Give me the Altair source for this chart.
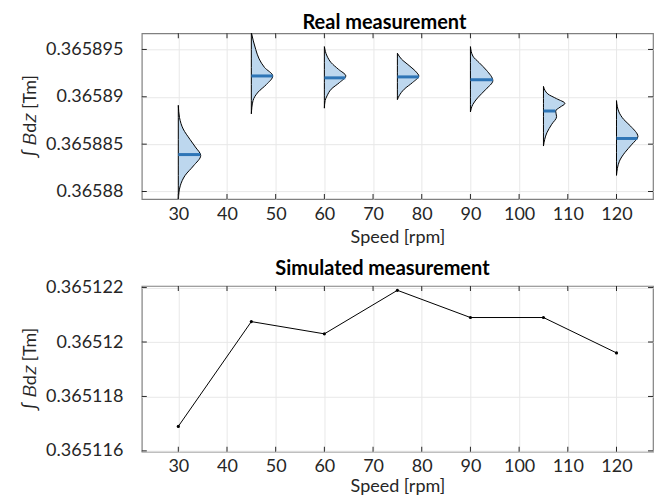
import altair as alt
import pandas as pd

speeds = [30, 45, 60, 75, 90, 105, 120]
x_ticks = [30, 40, 50, 60, 70, 80, 90, 100, 110, 120]

# half-violin outlines: value [Tm] and half-width [rpm units]
v30_vals = [0.3658891, 0.3658878, 0.3658866, 0.3658855, 0.3658847, 0.3658838, 0.3658827, 0.3658817, 0.3658806, 0.3658792]
v30_wids = [0.0, 0.25, 1.0, 2.4, 3.5, 4.6, 3.1, 1.4, 0.4, 0.0]
v45_vals = [0.3658968, 0.3658950, 0.3658940, 0.3658931, 0.3658922, 0.3658913, 0.3658905, 0.3658896, 0.3658882]
v45_wids = [0.0, 0.9, 1.6, 2.7, 4.4, 3.1, 1.4, 0.35, 0.0]
v60_vals = [0.3658953, 0.3658943, 0.3658936, 0.3658929, 0.3658922, 0.3658915, 0.3658908, 0.3658901, 0.3658896, 0.3658888]
v60_wids = [0.0, 0.55, 1.4, 2.9, 4.4, 3.1, 1.4, 0.55, 0.15, 0.0]
v75_vals = [0.3658946, 0.3658940, 0.3658933, 0.3658926, 0.3658922, 0.3658915, 0.3658908, 0.3658901, 0.3658897]
v75_wids = [0.0, 0.8, 2.4, 3.9, 4.4, 3.1, 1.4, 0.35, 0.0]
v90_vals = [0.3658953, 0.3658943, 0.3658936, 0.3658928, 0.3658917, 0.3658908, 0.3658899, 0.3658892, 0.3658884]
v90_wids = [0.0, 0.5, 1.8, 3.3, 4.6, 3.2, 1.5, 0.5, 0.0]
v105_vals = [0.3658911, 0.3658903, 0.3658898, 0.3658893, 0.3658889, 0.3658885, 0.3658879, 0.3658871, 0.3658862, 0.3658848]
v105_wids = [0.0, 0.9, 2.7, 4.4, 3.4, 2.5, 2.7, 1.7, 0.7, 0.0]
v120_vals = [0.3658896, 0.3658884, 0.3658876, 0.3658869, 0.3658858, 0.3658850, 0.3658841, 0.3658832, 0.3658817]
v120_wids = [0.0, 0.5, 1.5, 2.9, 4.4, 3.2, 1.7, 0.6, 0.0]

median_vals = [0.3658839, 0.3658922, 0.3658920, 0.3658921, 0.3658918, 0.3658885, 0.3658856]
median_wids = [4.5, 4.4, 4.3, 4.4, 4.6, 2.45, 4.3]

sim_vals = [0.3651169, 0.36512075, 0.3651203, 0.3651219, 0.3651209, 0.3651209, 0.3651196]

top_y_ticks = [0.36588, 0.365885, 0.36589, 0.365895]
bot_y_ticks = [0.365116, 0.365118, 0.36512, 0.365122]

profiles = {30: (v30_vals, v30_wids), 45: (v45_vals, v45_wids), 60: (v60_vals, v60_wids),
            75: (v75_vals, v75_wids), 90: (v90_vals, v90_wids), 105: (v105_vals, v105_wids),
            120: (v120_vals, v120_wids)}
rows = []
for s, (vals, wids) in profiles.items():
    for v, w in zip(vals, wids):
        rows.append({"speed": s, "value": v, "xend": s + w})
df_v = pd.DataFrame(rows)
df_med = pd.DataFrame({"speed": speeds, "value": median_vals,
                       "mend": [s + w for s, w in zip(speeds, median_wids)]})
df_sim = pd.DataFrame({"speed": speeds, "value": sim_vals})
df_xt = pd.DataFrame({"speed": x_ticks})

FONT = "Lato"
TXT = "#262626"
W, H = 512, 166
TL = 5  # inward tick length

xs = alt.Scale(domain=[22.5, 127.5], nice=False, zero=False)
ys_top = alt.Scale(domain=[0.3658792, 0.3658967], nice=False, zero=False)
ys_bot = alt.Scale(domain=[0.36511597, 0.36512206], nice=False, zero=False)

Y_TITLE = "∫ 𝐵d𝑧 [Tm]"


def main_x(tpad):
    return alt.Axis(values=x_ticks, title="Speed [rpm]", grid=True, ticks=False, domain=False,
                    labelPadding=6, titlePadding=tpad, orient="bottom")


def main_y(vals):
    return alt.Axis(values=vals, title=Y_TITLE, grid=True, ticks=False, domain=False,
                    format=".6~g", labelPadding=19, titlePadding=6, orient="left")


def tick_layers(ys, yvals):
    df_yt = pd.DataFrame({"value": yvals})
    bx = alt.Chart(df_xt).mark_tick(orient="vertical", color=TXT, thickness=1, size=TL, opacity=1)
    by = alt.Chart(df_yt).mark_tick(orient="horizontal", color=TXT, thickness=1, size=TL, opacity=1)
    xb = bx.encode(x=alt.X("speed:Q", scale=xs, axis=None), y=alt.value(H - TL / 2))
    xt = bx.encode(x=alt.X("speed:Q", scale=xs, axis=None), y=alt.value(TL / 2))
    yl = by.encode(y=alt.Y("value:Q", scale=ys, axis=None), x=alt.value(TL / 2))
    yr = by.encode(y=alt.Y("value:Q", scale=ys, axis=None), x=alt.value(W - TL / 2))
    return [xb, xt, yl, yr]


# --- top panel
area = alt.Chart(df_v).mark_area(orient="horizontal", interpolate="monotone", fill="#bdd7ee",
                                  stroke="black", strokeWidth=1, clip=True).encode(
    x=alt.X("speed:Q", scale=xs, axis=main_x(5)),
    x2="xend:Q",
    y=alt.Y("value:Q", scale=ys_top, axis=main_y(top_y_ticks)),
    detail="speed:N",
)
med = alt.Chart(df_med).mark_rule(color="#2e75b6", strokeWidth=3).encode(
    x=alt.X("speed:Q", scale=xs, axis=None),
    x2="mend:Q",
    y=alt.Y("value:Q", scale=ys_top, axis=None),
)
top = alt.layer(area, med, *tick_layers(ys_top, top_y_ticks)).resolve_axis(
    x="independent", y="independent").properties(
    width=W, height=H,
    title=alt.TitleParams("Real measurement", font=FONT, fontSize=20, fontWeight="bold",
                          color="black", anchor="middle", offset=0, dx=-13),
)

# --- bottom panel
line = alt.Chart(df_sim).mark_line(color="black", strokeWidth=1).encode(
    x=alt.X("speed:Q", scale=xs, axis=main_x(2)),
    y=alt.Y("value:Q", scale=ys_bot, axis=main_y(bot_y_ticks)),
)
pts = alt.Chart(df_sim).mark_circle(color="black", size=10, opacity=1).encode(
    x=alt.X("speed:Q", scale=xs, axis=None),
    y=alt.Y("value:Q", scale=ys_bot, axis=None),
)
bottom = alt.layer(line, pts, *tick_layers(ys_bot, bot_y_ticks)).resolve_axis(
    x="independent", y="independent").properties(
    width=W, height=H,
    title=alt.TitleParams("Simulated measurement", font=FONT, fontSize=20, fontWeight="bold",
                          color="black", anchor="middle", offset=0, dx=-15),
)

chart = alt.vconcat(top, bottom, spacing=11).properties(
    padding={"left": 13, "top": 4, "right": 3, "bottom": 0},
    background="white",
).configure_view(stroke="#808080", strokeWidth=1.2).configure_axis(
    labelFont=FONT, labelFontSize=18, labelColor=TXT,
    titleFont=FONT, titleFontSize=18, titleFontWeight="normal", titleColor=TXT,
    gridColor="#e8e8e8", gridWidth=1,
)

chart.save("out.html", embed_options={"renderer": "svg", "actions": False})
